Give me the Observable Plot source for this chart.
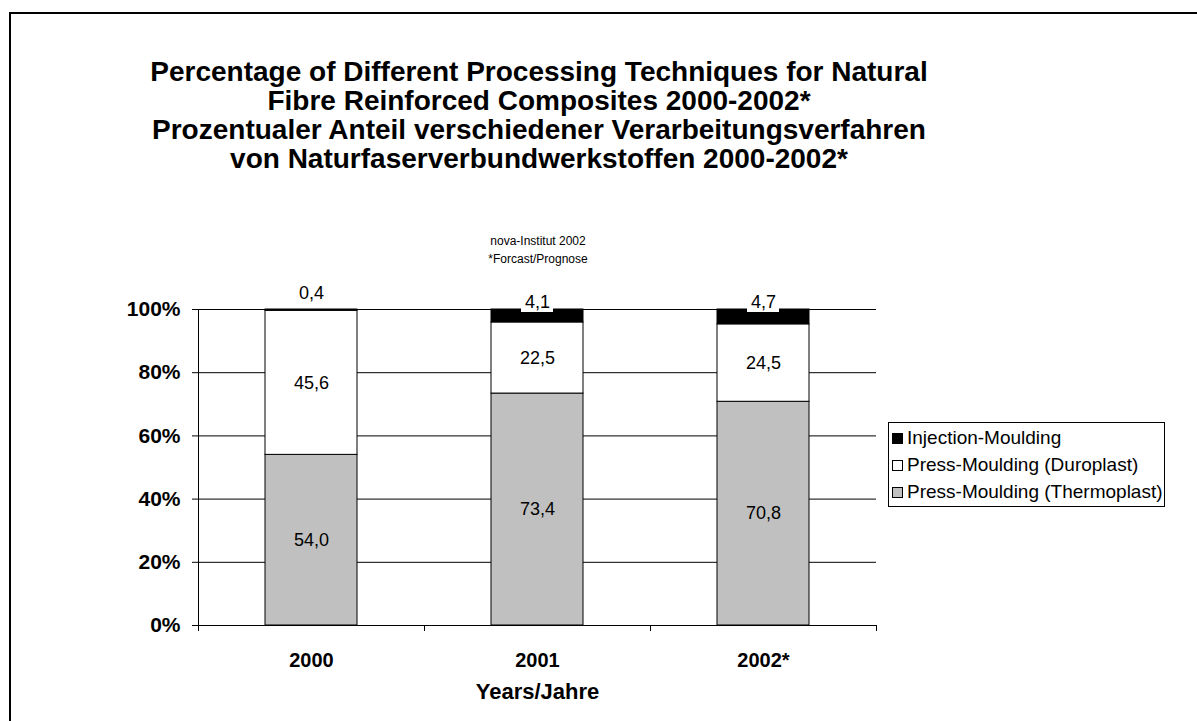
<!DOCTYPE html>
<html>
<head>
<meta charset="utf-8">
<script src="https://cdn.jsdelivr.net/npm/d3@7"></script>
<script src="https://cdn.jsdelivr.net/npm/@observablehq/plot@0.6"></script>
<style>
  html, body { margin: 0; padding: 0; background: #fff; overflow: hidden; }
  body { width: 1197px; height: 721px; position: relative; font-family: "Liberation Sans", Arial, sans-serif; color: #000; }
  #frame { position: absolute; left: 9px; top: 12px; width: 1300px; height: 800px; border: 2px solid #000; box-sizing: border-box; }
  #title { position: absolute; left: 89px; width: 900px; top: 57px; text-align: center; font-weight: bold; font-size: 28px; line-height: 29px; }
  #sub { position: absolute; left: 438px; width: 200px; top: 232px; text-align: center; font-size: 12px; line-height: 18px; }
  #chart { position: absolute; left: 0; top: 280px; }
  #legend { position: absolute; left: 888px; top: 422px; width: 277px; height: 85px; border: 1px solid #000; box-sizing: border-box; font-size: 19px; padding: 2px 0 0 3px; }
  .item { line-height: 22px; display: flex; align-items: center; height: 26px; margin-bottom: 1px; }
  .sw { width: 9px; height: 9px; border: 1px solid #000; margin: 0 4px 0 0; flex: none; }
</style>
</head>
<body>
<div id="frame"></div>
<div id="title"></div>
<div id="sub"></div>
<div id="chart"></div>
<div id="legend"></div>
<script>
// ---- data ----
const years = ["2000", "2001", "2002*"];
const series = ["Press-Moulding (Thermoplast)", "Press-Moulding (Duroplast)", "Injection-Moulding"];
const thermoplast = [54.0, 73.4, 70.8];
const duroplast = [45.6, 22.5, 24.5];
const injection = [0.4, 4.1, 4.7];
const colors = ["#c0c0c0", "#ffffff", "#000000"];
const yTicks = [0, 20, 40, 60, 80, 100];
const titleLines = [
  "Percentage of Different Processing Techniques for Natural",
  "Fibre Reinforced Composites 2000-2002*",
  "Prozentualer Anteil verschiedener Verarbeitungsverfahren",
  "von Naturfaserverbundwerkstoffen 2000-2002*"
];
const subtitleLines = ["nova-Institut 2002", "*Forcast/Prognose"];
const xLabel = "Years/Jahre";

// ---- table ----
const values = [thermoplast, duroplast, injection];
const rows = [];
years.forEach((yr, i) => {
  let base = 0;
  series.forEach((s, k) => {
    const v = values[k][i];
    rows.push({year: yr, series: s, value: v, y1: base, y2: base + v, mid: base + v / 2, order: k});
    base += v;
  });
});
const fmt = v => v.toFixed(1).replace(".", ",");

document.getElementById("title").innerHTML = titleLines.join("<br>");
document.getElementById("sub").innerHTML = subtitleLines.join("<br>");

const W = 900, H = 440, mL = 198, mR = 24, mT = 29, mB = 95;
const step = (W - mL - mR) / years.length;

const chart = Plot.plot({
  width: W, height: H,
  marginLeft: mL, marginRight: mR, marginTop: mT, marginBottom: mB,
  style: {fontFamily: "Liberation Sans, Arial, sans-serif", color: "#000", background: "transparent", overflow: "visible"},
  x: {type: "band", domain: years, paddingInner: 0.593, paddingOuter: 0.2965},
  y: {domain: [0, 100]},
  color: {domain: series, range: colors},
  marks: [
    Plot.gridY(yTicks, {stroke: "#000", strokeOpacity: 1, strokeWidth: 1}),
    Plot.barY(rows, {x: "year", y1: "y1", y2: "y2", fill: d => colors[d.order], stroke: "#000", strokeWidth: 1}),
    Plot.text(rows.filter(d => d.order < 2), {x: "year", y: "mid", text: d => fmt(d.value), fontSize: 18}),
    // injection labels: small one above the bar, others with white box
    Plot.barY(rows.filter(d => d.order === 2 && d.value >= 1), {x: "year", y1: "y2", y2: "y2", fill: "#fff", insetLeft: 30, insetRight: 30, insetTop: -17, insetBottom: -3}),
    Plot.text(rows.filter(d => d.order === 2 && d.value >= 1), {x: "year", y: "y2", text: d => fmt(d.value), fontSize: 18, dy: -7}),
    Plot.text(rows.filter(d => d.order === 2 && d.value < 1), {x: "year", y: "y2", text: d => fmt(d.value), fontSize: 18, dy: -16}),
    Plot.ruleY([0], {stroke: "#000"}),
    // y axis line
    Plot.ruleX([years[0]], {x: d => d, dx: -step / 2, stroke: "#000"}),
    // category boundary ticks
    Plot.ruleX(years, {x: d => d, dx: -step / 2, y1: 0, y2: 0, insetBottom: -6, stroke: "#000"}),
    Plot.ruleX([years[years.length - 1]], {x: d => d, dx: step / 2, y1: 0, y2: 0, insetBottom: -6, stroke: "#000"}),
    Plot.axisY({ticks: yTicks, tickFormat: d => d + "%", tickSize: 6, tickPadding: 12, fontSize: 21, fontWeight: "bold", label: null, stroke: "#000"}),
    Plot.axisX({tickSize: 0, tickPadding: 27, fontSize: 20, fontWeight: "bold", label: null}),
    Plot.axisX({tickSize: 0, ticks: [], fontSize: 22, fontWeight: "bold", label: xLabel, labelAnchor: "center", labelOffset: 73})
  ]
});
document.getElementById("chart").appendChild(chart);

// legend (top to bottom: reverse stacking order)
const leg = document.getElementById("legend");
[2, 1, 0].forEach(k => {
  const it = document.createElement("div");
  it.className = "item";
  it.innerHTML = `<span class="sw" style="background:${colors[k]}"></span><span>${series[k]}</span>`;
  leg.appendChild(it);
});
</script>
</body>
</html>
